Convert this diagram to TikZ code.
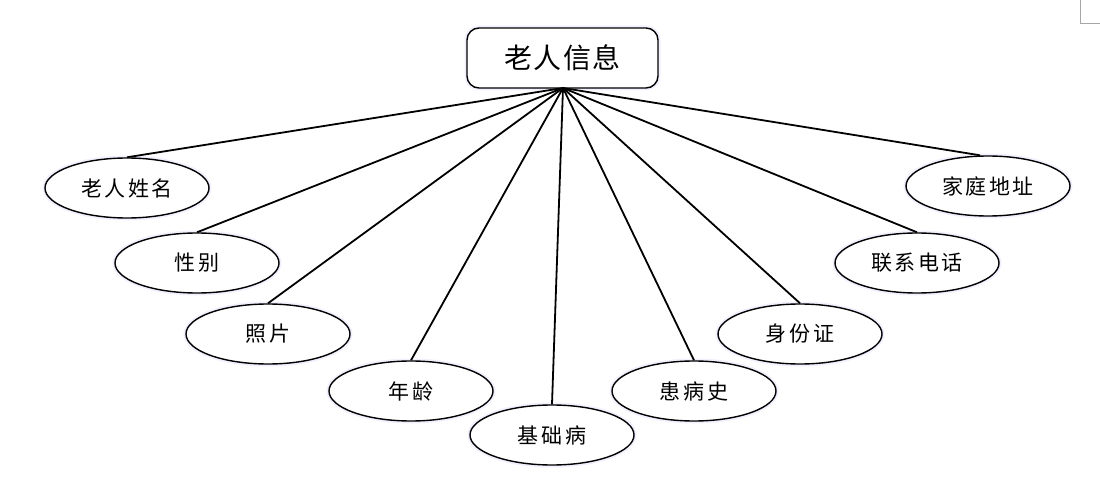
\documentclass[tikz,border=0pt]{standalone}
\usepackage{fontspec}
\newfontfamily\cjk[LetterSpace=12]{Noto Sans CJK SC}
\newfontfamily\cjktop[LetterSpace=4]{Noto Sans CJK SC}
\usetikzlibrary{shapes.geometric}
\begin{document}
\begin{tikzpicture}[x=1pt,y=-1pt,
  attr/.style={ellipse, draw=black, line width=1.4pt, fill=white,
    minimum width=164pt, minimum height=60pt, inner sep=0pt,
    font=\cjk\fontsize{21}{23}\selectfont,
    preaction={draw=blue!6, line width=5pt}},
  entity/.style={rounded corners=12pt, draw=black, line width=1.4pt, fill=white,
    minimum width=191pt, minimum height=60pt, inner sep=0pt,
    font=\cjktop\fontsize{28}{30}\selectfont,
    preaction={draw=blue!6, line width=5pt}},
  link/.style={line width=1.8pt, black}]
\useasboundingbox (0,0) rectangle (1100,481);
\draw[gray!70, line width=0.6pt] (1080,0) -- (1080,23) -- (1100,23);
\node[entity] (top) at (562.5,58) {老人信息};
\coordinate (hub) at (563,88);
\node[attr] (a1) at (127,188) {老人姓名};
\node[attr] (a2) at (197,263) {性别};
\node[attr] (a3) at (268,334) {照片};
\node[attr] (a4) at (411,391) {年龄};
\node[attr] (a5) at (552,435) {基础病};
\node[attr] (a6) at (694,391) {患病史};
\node[attr] (a7) at (800,334) {身份证};
\node[attr] (a8) at (917,263) {联系电话};
\node[attr] (a9) at (988,186) {家庭地址};
\foreach \n in {a1,a2,a3,a4,a5,a6,a7,a8}
  \draw[link] (hub) -- (\n.north);
\draw[link] (hub) -- ([xshift=-8pt]a9.north);
\end{tikzpicture}
\end{document}
